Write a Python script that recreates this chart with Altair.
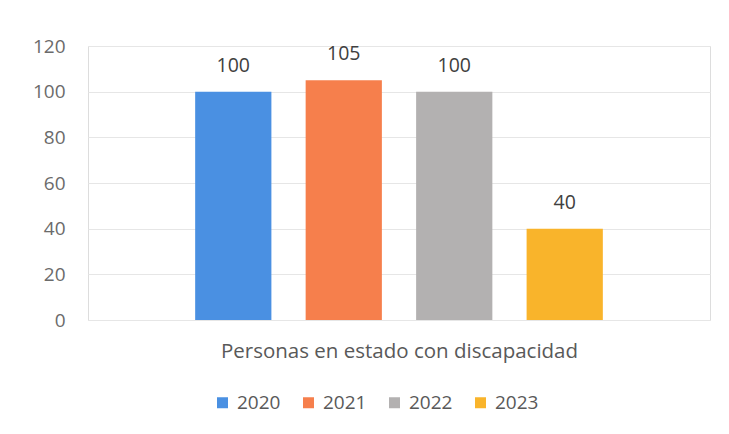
import altair as alt
import pandas as pd

years = ["2020", "2021", "2022", "2023"]
values = [100, 105, 100, 40]
colors = ["#4A90E2", "#F67F4C", "#B3B1B1", "#F9B42B"]
category = "Personas en estado con discapacidad"

df = pd.DataFrame({"year": years, "value": values})

x = alt.X("year:N", title=category,
          scale=alt.Scale(paddingInner=0.31, paddingOuter=0.97),
          axis=alt.Axis(labels=False, ticks=False, domain=False, grid=False,
                        titleFont="Open Sans", titleFontSize=20.5, titleFontWeight="normal",
                        titleColor="#595959", titlePadding=21))
y = alt.Y("value:Q", title=None,
          scale=alt.Scale(domain=[0, 120]),
          axis=alt.Axis(values=[0, 20, 40, 60, 80, 100, 120], ticks=False, domain=False,
                        gridColor="#E6E6E6", labelFont="Open Sans", labelFontSize=19,
                        labelColor="#6B6B6B", labelPadding=23))
color = alt.Color("year:N", scale=alt.Scale(domain=years, range=colors),
                  legend=alt.Legend(title=None, orient="none", direction="horizontal",
                                    legendX=125, legendY=347, symbolType="square",
                                    symbolSize=121, labelFont="Open Sans", labelFontSize=19,
                                    labelColor="#595959", columnPadding=18, labelOffset=5))

bars = alt.Chart(df).mark_bar().encode(x=x, y=y, color=color)
text = alt.Chart(df).mark_text(dy=-26, font="Open Sans", fontSize=19.5, color="#404040").encode(
    x="year:N", y="value:Q", text="value:Q")

chart = (bars + text).properties(
    width=622, height=274,
    autosize=alt.AutoSizeParams(type="none"),
    padding={"left": 80, "top": 38, "right": 11, "bottom": 106},
).configure_view(stroke="#EEEEEE").configure(background="white")

chart.save("out.html", embed_options={"renderer": "svg", "actions": False})
